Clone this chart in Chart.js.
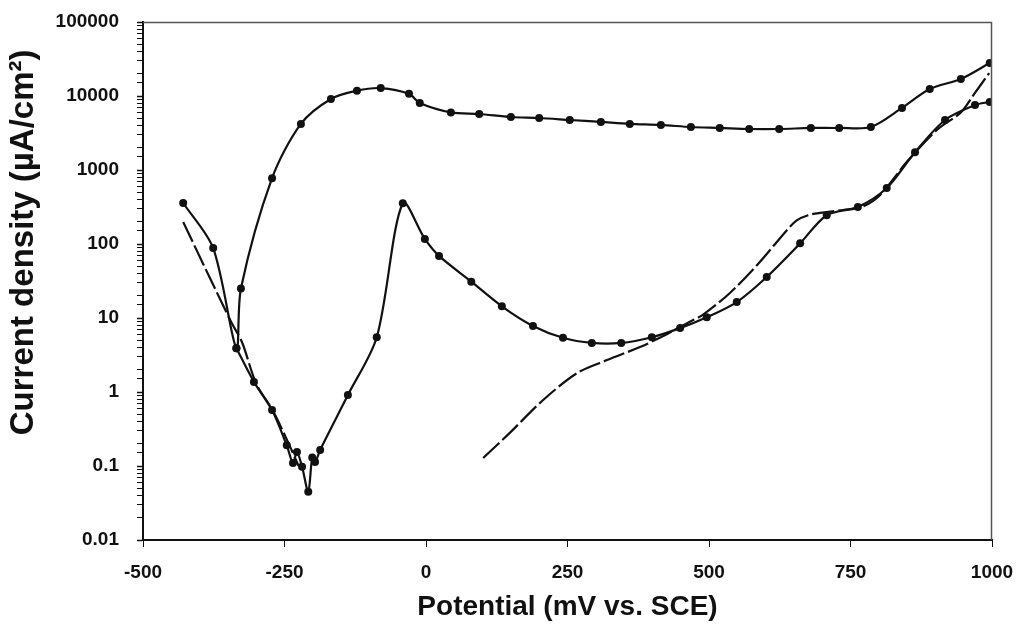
<!DOCTYPE html>
<html>
<head>
<meta charset="utf-8">
<script src="https://cdn.jsdelivr.net/npm/chart.js@4/dist/chart.umd.min.js"></script>
<style>
  html, body { margin: 0; padding: 0; background: #fff; }
  #wrap { width: 1022px; height: 630px; }
</style>
</head>
<body>
<div id="wrap"><canvas id="c"></canvas></div>
<script>
// scan 1 (dots): cathodic branch, active peak, passive range, transpassive
var scanAx = [-429, -376, -335, -327, -272, -221, -168, -122, -80, -30, -11, 44, 94, 150, 200, 254, 309, 360, 415, 468, 519, 571, 624, 680, 730, 786, 841, 890, 945, 996];
var scanAy = [358, 88, 3.9, 25, 776, 4200, 9100, 11800, 12800, 10700, 8040, 6000, 5710, 5200, 5040, 4740, 4460, 4200, 4060, 3810, 3700, 3580, 3580, 3700, 3700, 3810, 6900, 12400, 17000, 27900];

// scan 2 (dots): low-current curve
var scanBx = [-335, -304, -272, -246, -235, -228, -219, -208, -201, -196, -187, -138, -87, -41, -2, 23, 80, 134, 189, 242, 293, 345, 399, 449, 496, 549, 602, 661, 708, 763, 814, 864, 917, 970, 996];
var scanBy = [3.9, 1.37, 0.57, 0.19, 0.11, 0.155, 0.098, 0.045, 0.13, 0.113, 0.165, 0.91, 5.5, 355, 117, 69, 31, 14.4, 7.8, 5.4, 4.6, 4.6, 5.5, 7.3, 10.2, 16.4, 35.8, 102, 245, 316, 571, 1740, 4740, 7560, 8300];

// scan 3 (dashed): cathodic part, gap, anodic part
var scanCx = [-429, -382, -343, -325, -300, -270, -245, -225, -215, 101, 148, 207, 267, 320, 378, 413, 472, 489, 537, 585, 638, 655, 675, 696, 737, 770, 802, 850, 903, 945, 968, 995];
var scanCy = [198, 35, 8.5, 4.7, 1.3, 0.55, 0.22, 0.1, null, 0.128, 0.28, 0.78, 1.8, 2.7, 4.05, 5.4, 9.4, 11, 21.8, 52, 155, 209, 245, 263, 288, 316, 457, 1300, 3500, 6000, 10500, 20400];

var xTicks = [-500, -250, 0, 250, 500, 750, 1000];
var yTickLabels = ['0.01', '0.1', '1', '10', '100', '1000', '10000', '100000'];

function pts(xs, ys) {
    return xs.map(function (x, i) { return {x: x, y: ys[i]}; });
}

var INK = '#111';
var FAMILY = '"Liberation Sans", Arial, sans-serif';
var tickFont = {family: FAMILY, size: 19, weight: 'bold'};

var frame = {
    id: 'frame',
    afterDatasetsDraw: function (chart) {
        var a = chart.chartArea, ctx = chart.ctx;
        ctx.save();
        ctx.strokeStyle = '#555';
        ctx.lineWidth = 1.5;
        ctx.beginPath();
        ctx.moveTo(a.left, a.top + 0.5);
        ctx.lineTo(a.right - 0.5, a.top + 0.5);
        ctx.lineTo(a.right - 0.5, a.bottom);
        ctx.stroke();
        ctx.restore();
    }
};

new Chart(document.getElementById('c'), {
    type: 'line',
    data: {
        datasets: [{
            data: pts(scanAx, scanAy),
            borderColor: INK, backgroundColor: INK, borderWidth: 2.2,
            pointRadius: 4, pointBorderWidth: 0, tension: 0.3
        }, {
            data: pts(scanBx, scanBy),
            borderColor: INK, backgroundColor: INK, borderWidth: 2.2,
            pointRadius: 4, pointBorderWidth: 0, tension: 0.3
        }, {
            data: pts(scanCx, scanCy),
            borderColor: INK, borderWidth: 2.2, borderDash: [22, 4],
            pointRadius: 0, tension: 0.3, spanGaps: false
        }]
    },
    options: {
        responsive: true,
        maintainAspectRatio: false,
        animation: false,
        layout: {padding: {top: 22, right: 30, left: 0, bottom: 0}},
        plugins: {legend: {display: false}, tooltip: {enabled: false}},
        scales: {
            x: {
                type: 'linear', min: -500, max: 1000,
                afterFit: function (s) { s.height = 90; s.paddingLeft = 0; s.paddingRight = 0; },
                afterBuildTicks: function (s) { s.ticks = xTicks.map(function (v) { return {value: v}; }); },
                grid: {drawOnChartArea: false, tickLength: 7, color: INK, tickColor: INK},
                border: {color: INK, width: 2},
                ticks: {color: INK, font: tickFont, padding: 14, maxRotation: 0,
                        callback: function (v) { return String(v); }},
                title: {display: true, text: 'Potential (mV vs. SCE)', color: INK,
                        font: {family: FAMILY, size: 28, weight: 'bold'}, padding: {top: 0, bottom: 6}}
            },
            y: {
                type: 'logarithmic', min: 0.01, max: 100000,
                afterFit: function (s) { s.width = 143; s.paddingTop = 0; s.paddingBottom = 0; },
                grid: {
                    drawOnChartArea: false, tickLength: 6, color: INK,
                    tickColor: INK,
                    tickWidth: function (c) { return c.tick && c.tick.major ? 1.5 : 1; }
                },
                border: {color: INK, width: 2},
                ticks: {
                    color: INK, font: tickFont, padding: 18, autoSkip: false,
                    major: {enabled: true},
                    callback: function (v) {
                        var l = Math.log10(v);
                        if (Math.abs(l - Math.round(l)) > 1e-9) return '';
                        return yTickLabels[Math.round(l) + 2];
                    }
                },
                title: {display: true, text: 'Current density (µA/cm²)   ', align: 'end', color: INK,
                        font: {family: FAMILY, size: 33, weight: 'bold'}, padding: {top: 4, bottom: 0}}
            }
        }
    },
    plugins: [frame]
});
</script>
</body>
</html>
